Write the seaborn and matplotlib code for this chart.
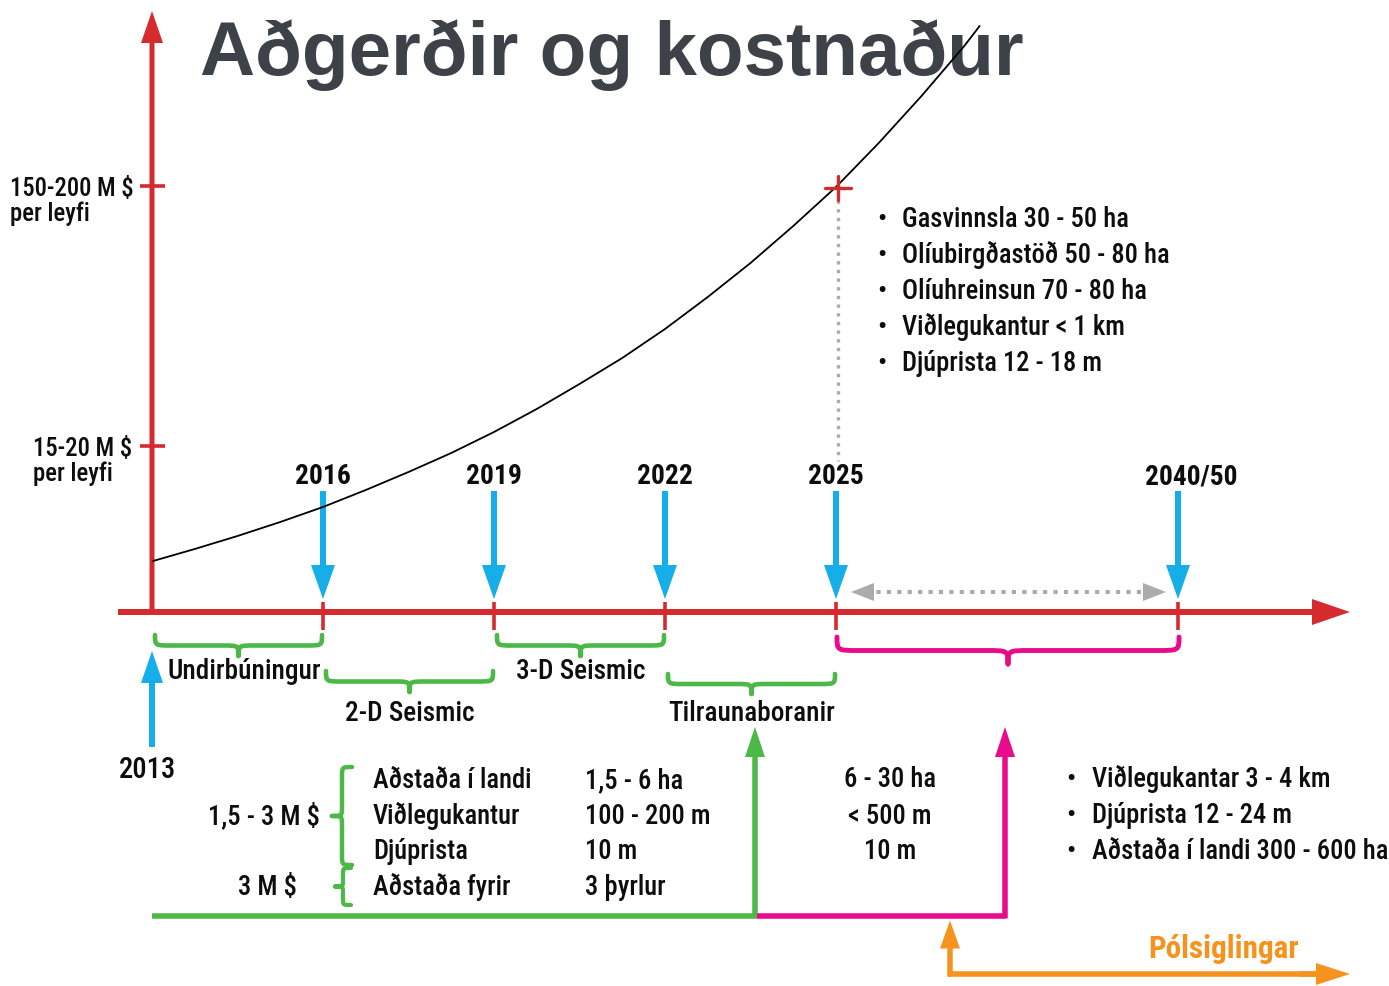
import numpy as np
import pandas as pd
import matplotlib
matplotlib.use("Agg")
import matplotlib.pyplot as plt
import seaborn as sns
from matplotlib.patches import FancyArrow, PathPatch, Polygon
from matplotlib.path import Path
from matplotlib import font_manager as fm

# ---------------- data ----------------
year_labels = ["2016", "2019", "2022", "2025", "2040/50"]
year_slots = [1, 2, 3, 4, 6]
start_label = "2013"
phase_labels = ["Undirbúningur", "2-D Seismic", "3-D Seismic", "Tilraunaboranir"]
phase_from = [0, 1, 2, 3]
phase_to = [1, 2, 3, 4]
cost_labels = ["150-200 M $\nper leyfi", "15-20 M $\nper leyfi"]
cost_levels = [426, 166]
curve_slots = [0.006, 0.25, 0.5, 0.75, 1.0, 1.25, 1.5, 1.75, 2.0, 2.25, 2.5,
               2.75, 3.0, 3.25, 3.5, 3.75, 4.0, 4.25, 4.5, 4.75, 4.84]
curve_levels = [51, 63, 76, 90, 105, 122, 140, 159, 180, 203, 228,
                254, 283, 315, 349, 386, 425, 469, 516, 566, 586]
milestone_slot = 4
milestone_level = 424
needs_2025 = ["Gasvinnsla 30 - 50 ha", "Olíubirgðastöð 50 - 80 ha",
              "Olíuhreinsun 70 - 80 ha", "Viðlegukantur < 1 km",
              "Djúprista 12 - 18 m"]
base_items = ["Aðstaða í landi", "Viðlegukantur", "Djúprista", "Aðstaða fyrir"]
base_values = ["1,5 - 6 ha", "100 - 200 m", "10 m", "3 þyrlur"]
base_costs = ["1,5 - 3 M $", "3 M $"]
mid_values = ["6 - 30 ha", "< 500 m", "10 m"]
final_needs = ["Viðlegukantar 3 - 4 km", "Djúprista 12 - 24 m",
               "Aðstaða í landi 300 - 600 ha"]
title = "Aðgerðir og kostnaður"
polar_label = "Pólsiglingar"

# ---------------- style ----------------
RED = "#d52b2f"
BLUE = "#16aee8"
GREEN = "#4cb848"
MAGENTA = "#ea0a8c"
ORANGE = "#f6931e"
GRAY = "#a9abae"
TITLE_C = "#3d4249"
INK = "#0d0d0d"
REG = "medium"

sns.set_theme(style="white")


def pick_font():
    names = {f.name for f in fm.fontManager.ttflist}
    for n in ["Liberation Sans Narrow", "Arial Narrow", "Nimbus Sans Narrow",
              "Roboto Condensed", "Open Sans Condensed", "Noto Sans Condensed",
              "DejaVu Sans Condensed"]:
        if n in names:
            return n, "normal"
    for fam in ["Noto Sans", "Open Sans", "Roboto", "DejaVu Sans"]:
        for f in fm.fontManager.ttflist:
            if f.name == fam and str(f.stretch) in ("condensed", "semi-condensed"):
                return fam, str(f.stretch)
    return "Liberation Sans", "normal"


LF, LSTRETCH = pick_font()
plt.rcParams["font.family"] = [LF, "DejaVu Sans"]

W, H = 1389, 987
fig = plt.figure(figsize=(W / 100, H / 100), dpi=100)
fig.patch.set_facecolor("white")
ax = fig.add_axes([0, 0, 1, 1])
ax.set_xlim(0, W)
ax.set_ylim(H, 0)
ax.axis("off")
renderer = fig.canvas.get_renderer()


def measure(s, size, weight):
    t = ax.text(0, 0, s, fontsize=size, fontweight=weight, family=[LF, "DejaVu Sans"],
                fontstretch=LSTRETCH)
    w = t.get_window_extent(renderer).width
    t.remove()
    return w


# scale factors so that text widths match the reference
_ref = [("Gasvinnsla 30 - 50 ha", 229.0), ("Aðstaða í landi 300 - 600 ha", 291.0),
        ("Viðlegukantur", 150.0)]
K_REG = float(np.mean([w / measure(s, 20.5, REG) for s, w in _ref]))
K_BOLD = 93.0 / measure("2040/50", 23, "bold")

X0, SLOT, Y_AXIS = 152, 171, 613


def sx(s):
    return X0 + SLOT * s


def sy(level):
    return Y_AXIS - level


def arrow(x, y, dx, dy, color, w, hw, hl, z=3):
    ax.add_patch(FancyArrow(x, y, dx, dy, width=w, head_width=hw, head_length=hl,
                            length_includes_head=True, color=color, lw=0, zorder=z))


def brace(a0, a1, c, depth, color, vertical=False, r=16, lw=3.3):
    m = (a0 + a1) / 2
    half = c + depth / 2
    tip = c + depth
    pts = [(a0, c), (a0, half), (a0, half), (a0 + r, half),
           (m - r, half), (m, half), (m, half), (m, tip),
           (m, half), (m, half), (m + r, half),
           (a1 - r, half), (a1, half), (a1, half), (a1, c)]
    codes = [Path.MOVETO, Path.CURVE4, Path.CURVE4, Path.CURVE4,
             Path.LINETO, Path.CURVE4, Path.CURVE4, Path.CURVE4,
             Path.CURVE4, Path.CURVE4, Path.CURVE4,
             Path.LINETO, Path.CURVE4, Path.CURVE4, Path.CURVE4]
    if vertical:
        pts = [(b, a) for a, b in pts]
    ax.add_patch(PathPatch(Path(pts, codes), fill=False, ec=color, lw=lw,
                           capstyle="round", joinstyle="round", zorder=3))


def txt(x, y, s, size, ha="left", weight=REG, color=INK, z=5):
    k = K_BOLD if weight == "bold" else K_REG
    ax.text(x, y, s, fontsize=size * k, ha=ha, va="baseline", fontweight=weight,
            color=color, family=[LF, "DejaVu Sans"], fontstretch=LSTRETCH, zorder=z)


# title
ax.text(200, 75, title, fontsize=55, fontweight="bold", color=TITLE_C,
        family=["Liberation Sans", "DejaVu Sans"], ha="left", va="baseline", zorder=2)

# cost curve (seaborn)
curve_df = pd.DataFrame({"x": [sx(s) for s in curve_slots],
                         "y": [sy(v) for v in curve_levels]})
sns.lineplot(data=curve_df, x="x", y="y", sort=False, color="black", lw=1.3,
             ax=ax, zorder=4)
ax.set_xlim(0, W)
ax.set_ylim(H, 0)
ax.axis("off")

# axes
arrow(sx(0), Y_AXIS + 2, 0, 12 - Y_AXIS - 2, RED, 5, 22, 32)
arrow(118, Y_AXIS, 1350 - 118, 0, RED, 6, 26, 38)
for lev in cost_levels:
    ax.plot([140, 165], [sy(lev), sy(lev)], color=RED, lw=2.6, zorder=3,
            solid_capstyle="butt")
xl = {426: 10, 166: 33}
for lev, lab in zip(cost_levels, cost_labels):
    l1, l2 = lab.split("\n")
    txt(xl[lev], sy(lev) + 9, l1, 19)
    txt(xl[lev], sy(lev) + 34, l2, 19)

# year ticks, arrows and labels
for s, lab in zip(year_slots, year_labels):
    x = sx(s)
    ax.plot([x, x], [603, 631], color=RED, lw=2.6, zorder=3, solid_capstyle="butt")
    arrow(x, 492, 0, 108, BLUE, 6, 24, 34)
    txt(x + (13 if lab == "2040/50" else 0), 484, lab, 23, ha="center", weight="bold")

# 2013 start arrow
arrow(sx(0), 748, 0, -96, BLUE, 6, 22, 32)
txt(147, 778, start_label, 22, ha="center")

# milestone cross and dotted drop
mx, my = sx(milestone_slot) + 2, sy(milestone_level)
ax.plot([mx - 13, mx + 13], [my, my], color=RED, lw=2.4, zorder=5)
ax.plot([mx, mx], [my - 12, my + 12], color=RED, lw=2.4, zorder=5)
ax.plot([mx, mx], [my + 12, 462], color=GRAY, lw=2.4, ls=(0, (1, 1.6)), zorder=2)

# gray dotted double arrow
ya = 593
ax.plot([sx(4) + 30, sx(6) - 30], [ya, ya], color=GRAY, lw=3, ls=(0, (1, 1.5)), zorder=3)
ax.add_patch(Polygon([[sx(4) + 15, ya], [sx(4) + 38, ya - 9], [sx(4) + 38, ya + 9]],
                     color=GRAY, lw=0, zorder=3))
ax.add_patch(Polygon([[sx(6) - 12, ya], [sx(6) - 35, ya - 9], [sx(6) - 35, ya + 9]],
                     color=GRAY, lw=0, zorder=3))

# phase braces and labels
brace_rows = [(636, 21, 679), (672, 21, 721), (636, 21, 679), (675, 20, 721)]
for i, (lab, a, b) in enumerate(zip(phase_labels, phase_from, phase_to)):
    c, d, base = brace_rows[i]
    x0, x1 = sx(a) + 3, sx(b) - 1
    brace(x0, x1, c, d, GREEN)
    cx = (x0 + x1) / 2
    if i == 0:
        cx = 244
    txt(cx, base, lab, 21, ha="center")
brace(sx(4) + 1, sx(6) + 1, 638, 27, MAGENTA, r=22, lw=3.5)

# bottom flows
ax.plot([sx(0), 757], [917, 917], color=GREEN, lw=4, zorder=3, solid_capstyle="butt")
arrow(755, 919, 0, -191, GREEN, 5.5, 20, 30)
ax.plot([757, 1005], [917, 917], color=MAGENTA, lw=4, zorder=3, solid_capstyle="butt")
arrow(1005, 919.5, 0, -191.5, MAGENTA, 5.5, 20, 30)
arrow(950, 977.5, 0, -56, ORANGE, 5.5, 20, 28)
ax.plot([948, 1320], [975, 975], color=ORANGE, lw=4, zorder=3, solid_capstyle="butt")
arrow(1300, 975, 50, 0, ORANGE, 5.5, 22, 34)
txt(1224, 958, polar_label, 26, ha="center", weight="bold", color=ORANGE)

# left bracketed group
rows_y = [788, 824, 859, 895]
for yb, item, val in zip(rows_y, base_items, base_values):
    txt(373, yb, item, 20.5)
    txt(585, yb, val, 20.5)
txt(320, 824, base_costs[0], 20.5, ha="right")
txt(267, 895, base_costs[1], 20.5, ha="center")
brace(768, 866, 352, -20, GREEN, vertical=True, r=10, lw=3.2)
brace(869, 906, 351, -16, GREEN, vertical=True, r=6, lw=3.0)

# middle values
for yb, val in zip([787, 824, 859], mid_values):
    txt(890, yb, val, 20.5, ha="center")

# bullet lists
for i, s in enumerate(needs_2025):
    yb = 227 + 36 * i
    txt(882, yb, "•", 20.5, ha="center")
    txt(902, yb, s, 20.5)
for i, s in enumerate(final_needs):
    yb = 787 + 36 * i
    txt(1071, yb, "•", 20.5, ha="center")
    txt(1092, yb, s, 20.5)

fig.savefig("out.png", dpi=100, facecolor="white")
